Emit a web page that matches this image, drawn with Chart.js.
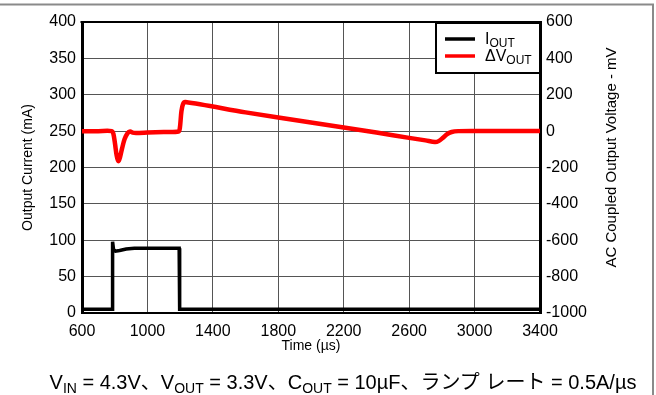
<!DOCTYPE html>
<html>
<head>
<meta charset="utf-8">
<script src="https://cdn.jsdelivr.net/npm/chart.js@4"></script>
<style>
  html, body { margin: 0; padding: 0; background: #fff; }
  #wrap { position: relative; width: 656px; height: 395px; overflow: hidden; }
  #chart { position: absolute; left: 0; top: 0; }
  #caption {
    position: absolute; left: 0; width: 686px; top: 366px;
    text-align: center; white-space: nowrap; color: #000;
    font: 20px "Liberation Sans", Arial, "Noto Sans CJK JP", sans-serif;
  }
  #caption sub { font-size: 14px; vertical-align: -4px; line-height: 0; }
</style>
</head>
<body>
<div id="wrap">
  <canvas id="chart" width="656" height="395"></canvas>
  <div id="caption">V<sub>IN</sub> = 4.3V、V<sub>OUT</sub> = 3.3V、C<sub>OUT</sub> = 10µF、ランプ レート = 0.5A/µs</div>
</div>
<script>
// Load step: output current (mA) against time (µs)
const currentTime = [600, 700, 785, 787, 793, 805, 830, 870, 920, 1000, 1100, 1194, 1197, 1300, 1600, 2000, 2400, 2800, 3200, 3400];
const currentMA   = [5,   5,   5,   98,  87,  85,  86,  88,  89,  89,   89,   89,   5,    5,    5,    5,    5,    5,    5,    5];

// AC coupled output voltage deviation (mV) against time (µs)
const voltageTime = [600, 700, 782, 792, 802, 812, 822, 832, 845, 860, 878, 895, 910, 930, 1000, 1100, 1190, 1198, 1208, 1218, 1232, 1600, 2000, 2400, 2600, 2700, 2758, 2780, 2805, 2830, 2860, 2900, 3000, 3400];
const voltageMV   = [0,   0,   0,   -15, -70, -135,-165,-145,-95, -45, -12, -2,  -8,  -10, -8,   -5,   -2,   15,   110,  150,  160,  103,  47,   -8,   -37,  -51,  -60,  -55,  -38,  -18,  -5,   0,    1,    1];

// Axis tick settings
const timeTicks    = { min: 600,   max: 3400, step: 400 };
const currentTicks = { min: 0,     max: 400,  step: 50 };
const voltageTicks = { min: -1000, max: 600,  step: 200 };

// Series and axis titles
const seriesNames  = [{ main: 'I', sub: 'OUT' }, { main: 'ΔV', sub: 'OUT' }];
const seriesColors = ['#000000', '#ff0000'];
const timeTitle    = 'Time (µs)';
const currentTitle = 'Output Current (mA)';
const voltageTitle = 'AC Coupled Output Voltage - mV';

const toPoints = (xs, ys) => xs.map((x, i) => ({ x, y: ys[i] }));
const plain = v => String(v);
const tickFont = { family: '"Liberation Sans", Arial, sans-serif', size: 16 };
const titleFont = { family: '"Liberation Sans", Arial, sans-serif', size: 14 };

// Plot frame top edge, legend box, right-hand axis title and page frame
const decorations = {
  id: 'decorations',
  afterDraw(chart) {
    const { ctx, chartArea: a } = chart;
    ctx.save();

    ctx.strokeStyle = '#000';
    ctx.lineWidth = 2;
    ctx.beginPath();
    ctx.moveTo(a.left - 1.5, a.top);
    ctx.lineTo(a.right + 1.5, a.top);
    ctx.stroke();

    // legend
    const bw = 105, bh = 51;
    const bx = a.right - bw, by = a.top;
    ctx.fillStyle = '#fff';
    ctx.fillRect(bx, by, bw, bh);
    ctx.lineWidth = 2;
    ctx.strokeStyle = '#000';
    ctx.strokeRect(bx + 1, by + 1, bw - 1, bh - 1);
    seriesNames.forEach((s, i) => {
      const y = by + 17 + i * 17;
      ctx.strokeStyle = seriesColors[i];
      ctx.lineWidth = 3.5;
      ctx.beginPath();
      ctx.moveTo(bx + 10, y);
      ctx.lineTo(bx + 40, y);
      ctx.stroke();
      ctx.fillStyle = '#000';
      ctx.textBaseline = 'alphabetic';
      ctx.textAlign = 'left';
      ctx.font = '16px "Liberation Sans", Arial, sans-serif';
      const tx = bx + 50;
      ctx.fillText(s.main, tx, y + 5);
      const w = ctx.measureText(s.main).width;
      ctx.font = '12px "Liberation Sans", Arial, sans-serif';
      ctx.fillText(s.sub, tx + w, y + 8);
    });

    // right axis title, reading upward
    ctx.fillStyle = '#000';
    ctx.font = '15px "Liberation Sans", Arial, sans-serif';
    ctx.textAlign = 'center';
    ctx.textBaseline = 'middle';
    ctx.translate(a.right + 72, (a.top + a.bottom) / 2 - 10);
    ctx.rotate(-Math.PI / 2);
    ctx.fillText(voltageTitle, 0, 0);
    ctx.setTransform(1, 0, 0, 1, 0, 0);

    // page frame
    ctx.strokeStyle = '#8a8a8a';
    ctx.lineWidth = 2;
    ctx.beginPath();
    ctx.moveTo(0, 4.5);
    ctx.lineTo(653, 4.5);
    ctx.lineTo(653, 395);
    ctx.stroke();
    ctx.restore();
  }
};

new Chart(document.getElementById('chart'), {
  type: 'line',
  data: {
    datasets: [
      {
        label: 'IOUT',
        data: toPoints(currentTime, currentMA),
        yAxisID: 'y',
        borderColor: seriesColors[0],
        borderWidth: 3.5,
        pointRadius: 0,
        tension: 0
      },
      {
        label: 'ΔVOUT',
        data: toPoints(voltageTime, voltageMV),
        yAxisID: 'y2',
        borderColor: seriesColors[1],
        borderWidth: 4.5,
        pointRadius: 0,
        tension: 0.3
      }
    ]
  },
  options: {
    responsive: false,
    animation: false,
    layout: { padding: { top: 22, bottom: 40, left: 0, right: 0 } },
    plugins: { legend: { display: false }, tooltip: { enabled: false } },
    scales: {
      x: {
        type: 'linear',
        min: timeTicks.min, max: timeTicks.max,
        ticks: { stepSize: timeTicks.step, font: tickFont, color: '#000', padding: 9, maxRotation: 0, callback: plain },
        grid: { color: '#555', lineWidth: 1, drawTicks: false },
        border: { color: '#000', width: 2 },
        title: { display: true, text: timeTitle, font: titleFont, color: '#000', padding: { top: 0, bottom: 0 } },
        afterFit(s) { s.height = 42; }
      },
      y: {
        position: 'left',
        min: currentTicks.min, max: currentTicks.max,
        ticks: { stepSize: currentTicks.step, font: tickFont, color: '#000', padding: 6, callback: plain },
        grid: { color: '#555', lineWidth: 1, drawTicks: false },
        border: { color: '#000', width: 3 },
        title: { display: true, text: currentTitle, font: titleFont, color: '#000', padding: { top: 20, bottom: 0 } },
        afterFit(s) { s.width = 82; }
      },
      y2: {
        position: 'right',
        min: voltageTicks.min, max: voltageTicks.max,
        ticks: { stepSize: voltageTicks.step, font: tickFont, color: '#000', padding: 6, callback: plain },
        grid: { display: false, drawTicks: false },
        border: { color: '#000', width: 3 },
        afterFit(s) { s.width = 116; }
      }
    }
  },
  plugins: [decorations]
});
</script>
</body>
</html>
